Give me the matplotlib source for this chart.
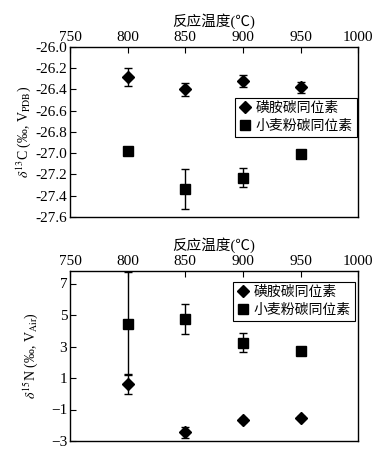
import matplotlib
matplotlib.use('Agg')
import matplotlib.pyplot as plt
from matplotlib.lines import Line2D

plt.rcParams['font.family'] = ['Liberation Serif', 'Noto Sans CJK SC', 'DejaVu Sans']
plt.rcParams['mathtext.fontset'] = 'stix'
plt.rcParams['font.size'] = 10

# data
temps = [800, 850, 900, 950]
xticks = [750, 800, 850, 900, 950, 1000]

c_sulfa = [-26.28, -26.40, -26.32, -26.38]
c_sulfa_err = [0.085, 0.06, 0.055, 0.05]
c_wheat = [-26.98, -27.34, -27.23, -27.01]
c_wheat_err = [0.04, 0.19, 0.09, 0.02]

n_sulfa = [0.62, -2.46, -1.67, -1.52]
n_sulfa_err = [0.62, 0.37, 0.1, 0.1]
n_wheat = [4.45, 4.75, 3.23, 2.72]
n_wheat_err = [3.25, 0.93, 0.6, 0.1]

labels = ['磺胺碳同位素', '小麦粉碳同位素']

fig = plt.figure(figsize=(3.91, 4.5), dpi=100)
ax1 = fig.add_axes([0.179, 0.518, 0.737, 0.378])
ax2 = fig.add_axes([0.179, 0.020, 0.737, 0.378])


def style(ax):
    ax.set_xlim(750, 1000)
    ax.set_xticks(xticks)
    ax.xaxis.set_ticks_position('top')
    ax.xaxis.set_label_position('top')
    ax.tick_params(axis='x', direction='in', length=4, pad=2, labelsize=11)
    ax.tick_params(axis='y', direction='in', length=4, pad=2, labelsize=11)
    for s in ax.spines.values():
        s.set_linewidth(1.0)
    ax.set_xlabel('反应温度(℃)', fontsize=10.5, labelpad=4)


def draw(ax, y1, e1, y2, e2):
    ax.errorbar(temps, y1, yerr=e1, fmt='D', color='black', ms=6.5,
                capsize=3, elinewidth=1, capthick=1)
    ax.errorbar(temps, y2, yerr=e2, fmt='s', color='black', ms=7,
                capsize=3, elinewidth=1, capthick=1)
    handles = [Line2D([], [], ls='none', marker='D', color='black', ms=6.5),
               Line2D([], [], ls='none', marker='s', color='black', ms=7)]
    return handles


def add_legend(ax, handles, anchor):
    leg = ax.legend(handles, labels, loc='upper right', bbox_to_anchor=anchor,
                    fancybox=False, edgecolor='black', framealpha=1,
                    handlelength=0.8, handletextpad=0.4, borderpad=0.3,
                    labelspacing=0.35, borderaxespad=0, fontsize=10)
    leg.get_frame().set_linewidth(0.8)


h = draw(ax1, c_sulfa, c_sulfa_err, c_wheat, c_wheat_err)
style(ax1)
ax1.set_ylim(-27.6, -26.0)
ax1.set_yticks([-26.0, -26.2, -26.4, -26.6, -26.8, -27.0, -27.2, -27.4, -27.6])
ax1.set_yticklabels(['-26.0', '-26.2', '-26.4', '-26.6', '-26.8', '-27.0',
                     '-27.2', '-27.4', '-27.6'])
ax1.set_ylabel(r'$\delta^{13}$C (‰, V$_{\rm PDB}$)', fontsize=10, labelpad=2)
add_legend(ax1, h, (0.997, 0.70))

h = draw(ax2, n_sulfa, n_sulfa_err, n_wheat, n_wheat_err)
style(ax2)
ax2.set_ylim(-3, 7.8)
ax2.set_yticks([7, 5, 3, 1, -1, -3])
ax2.set_ylabel(r'$\delta^{15}$N (‰, V$_{\rm Air}$)', fontsize=10, labelpad=8)
add_legend(ax2, h, (0.99, 0.935))

fig.savefig('out.png', dpi=100)
